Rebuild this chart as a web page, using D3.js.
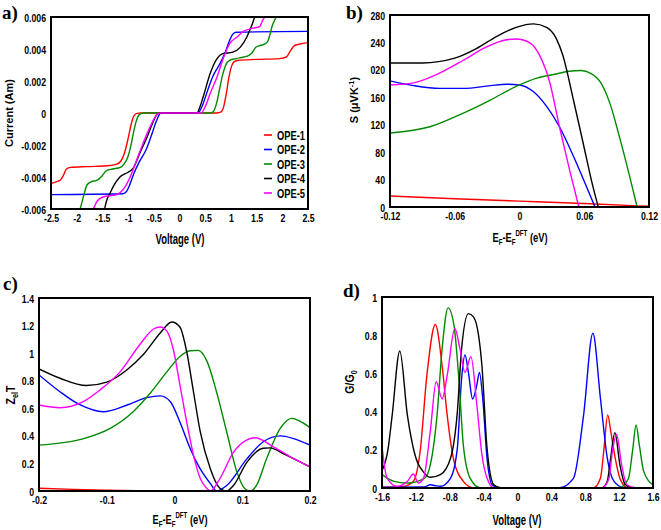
<!DOCTYPE html>
<html><head><meta charset="utf-8">
<script src="https://cdn.jsdelivr.net/npm/d3@7"></script>
<style>
body{margin:0;background:#fff;}
text{font-family:"Liberation Sans",Arial,sans-serif;font-weight:bold;fill:#000;}
.lab{font-family:"Liberation Serif","Times New Roman",serif;font-weight:bold;}
</style></head><body>
<svg id="c" width="661" height="530"></svg>
<script>
// ---------- shared ----------
const seriesNames = ["OPE-1","OPE-2","OPE-3","OPE-4","OPE-5"];
const seriesColors = ["#ff0000","#0000ff","#008a00","#000000","#ff00ff"];

// ---------- panel a: I-V ----------
const aTicksX = [-2.5,-2,-1.5,-1,-0.5,0,0.5,1,1.5,2,2.5];
const aTickLabelsX = ["-2.5","-2","-1.5","-1","-0.5","0","0.5","1","1.5","2","2.5"];
const aTicksY = [-0.006,-0.004,-0.002,0,0.002,0.004,0.006];
const aTickLabelsY = ["-0.006","-0.004","-0.002","0","0.002","0.004","0.006"];
const aOPE1 = [[-2.5,-0.0044],[-2.4,-0.0043],[-2.32,-0.0042],[-2.26,-0.0039],[-2.2,-0.0035],[-2.12,-0.0034],[-1.8,-0.00335],[-1.4,-0.0033],[-1.22,-0.0032],[-1.14,-0.003],[-1.07,-0.0025],[-1.0,-0.0016],[-0.94,-0.0007],[-0.89,-0.0002],[-0.83,-0.00002],[-0.75,0],[0.72,0],[0.8,0.00005],[0.86,0.0004],[0.91,0.0012],[0.96,0.0022],[1.01,0.0029],[1.06,0.0032],[1.15,0.0033],[1.5,0.00335],[1.95,0.0034],[2.08,0.0035],[2.16,0.0039],[2.23,0.0042],[2.33,0.0043],[2.5,0.0044]];
const aOPE2 = [[-2.5,-0.0051],[-1.1,-0.00505],[-1.03,-0.0049],[-0.97,-0.0045],[-0.89,-0.0038],[-0.79,-0.0031],[-0.65,-0.0023],[-0.53,-0.00125],[-0.45,-0.0005],[-0.36,0],[0.36,0],[0.45,0.0005],[0.53,0.00125],[0.65,0.0023],[0.79,0.0031],[0.89,0.0038],[0.97,0.0045],[1.03,0.0049],[1.1,0.00505],[2.5,0.0051]];
const aOPE3 = [[-1.95,-0.0062],[-1.9,-0.0056],[-1.85,-0.005],[-1.8,-0.0045],[-1.72,-0.0043],[-1.6,-0.0042],[-1.5,-0.0039],[-1.42,-0.0036],[-1.3,-0.0035],[-1.15,-0.0034],[-1.08,-0.0032],[-1.0,-0.0027],[-0.95,-0.0021],[-0.9,-0.0013],[-0.85,-0.0006],[-0.78,-0.0001],[-0.7,0],[0.6,0],[0.66,0.0001],[0.72,0.0006],[0.78,0.0015],[0.84,0.0024],[0.9,0.003],[0.98,0.0033],[1.1,0.0034],[1.25,0.0035],[1.35,0.0036],[1.42,0.0038],[1.48,0.0041],[1.55,0.0042],[1.65,0.0043],[1.72,0.0045],[1.76,0.0049],[1.8,0.0054],[1.85,0.0058],[1.9,0.0061]];
const aOPE4 = [[-1.47,-0.0062],[-1.42,-0.0055],[-1.35,-0.005],[-1.29,-0.0046],[-1.16,-0.004],[-1.0,-0.0037],[-0.9,-0.00345],[-0.77,-0.0025],[-0.63,-0.0015],[-0.52,-0.0006],[-0.44,-0.0001],[-0.38,0],[0.34,0],[0.4,0.0004],[0.46,0.001],[0.6,0.0025],[0.73,0.0034],[0.83,0.0037],[1.04,0.0038],[1.18,0.0041],[1.31,0.00475],[1.37,0.0052],[1.42,0.0056],[1.48,0.0062]];
const aOPE5 = [[-1.7,-0.0062],[-1.6,-0.0055],[-1.49,-0.00525],[-1.22,-0.0051],[-1.1,-0.0048],[-0.96,-0.004],[-0.83,-0.0029],[-0.71,-0.0019],[-0.57,-0.00085],[-0.44,-0.0001],[-0.38,0],[0.42,0],[0.5,0.0004],[0.6,0.00125],[0.73,0.00225],[0.85,0.0034],[0.98,0.00435],[1.12,0.00475],[1.24,0.0051],[1.43,0.0053],[1.56,0.0054],[1.62,0.0058],[1.68,0.0061]];

// ---------- panel b: Seebeck ----------
const bTicksX = [-0.12,-0.06,0,0.06,0.12];
const bTickLabelsX = ["-0.12","-0.06","0","0.06","0.12"];
const bTicksY = [0,40,80,120,160,200,240,280];
const bTickLabelsY = ["0","40","80","120","160","020","240","280"];
const bOPE1 = [[-0.12,16],[-0.06,12],[0,8.5],[0.06,5],[0.12,1]];
const bOPE2 = [[-0.12,184],[-0.098,177],[-0.074,173],[-0.052,173],[-0.027,177],[-0.012,179],[0,178],[0.013,168],[0.025,147],[0.037,117],[0.05,74],[0.062,30],[0.07,0]];
const bOPE3 = [[-0.12,108],[-0.083,117],[-0.052,137],[-0.027,156],[-0.003,176],[0.016,188],[0.034,194],[0.046,198],[0.057,199],[0.066,195],[0.075,182],[0.084,150],[0.093,100],[0.102,45],[0.109,0]];
const bOPE4 = [[-0.12,210],[-0.09,210],[-0.06,217],[-0.04,231],[-0.021,249],[-0.003,262],[0.013,267],[0.025,262],[0.034,246],[0.04,222],[0.05,156],[0.059,93],[0.068,30],[0.073,0]];
const bOPE5 = [[-0.12,178],[-0.098,181],[-0.077,193],[-0.052,214],[-0.031,233],[-0.012,244],[-0.003,245],[0.01,239],[0.019,220],[0.028,182],[0.037,117],[0.047,50],[0.055,0]];

// ---------- panel c: ZT ----------
const cTicksX = [-0.2,-0.1,0,0.1,0.2];
const cTickLabelsX = ["-0.2","-0.1","0","0.1","0.2"];
const cTicksY = [0,0.2,0.4,0.6,0.8,1,1.2,1.4];
const cTickLabelsY = ["0","0.2","0.4","0.6","0.8","1","1.2","1.4"];
const cOPE1 = [[-0.2,0.02],[-0.15,0.012],[-0.1,0.006],[-0.05,0.002],[0,0.0005],[0.2,0]];
const cOPE2 = [[-0.2,0.842],[-0.169,0.72],[-0.139,0.624],[-0.105,0.575],[-0.07,0.624],[-0.041,0.677],[-0.021,0.69],[-0.006,0.648],[0.008,0.5],[0.023,0.31],[0.038,0.16],[0.053,0.053],[0.062,0],[0.077,0.04],[0.107,0.235],[0.131,0.357],[0.156,0.4],[0.176,0.38],[0.2,0.333]];
const cOPE3 = [[-0.2,0.333],[-0.134,0.38],[-0.095,0.454],[-0.061,0.575],[-0.036,0.709],[-0.011,0.866],[0.008,0.976],[0.023,1.017],[0.035,1.02],[0.048,0.94],[0.062,0.72],[0.077,0.43],[0.092,0.14],[0.104,0.017],[0.112,0],[0.121,0.04],[0.136,0.235],[0.156,0.454],[0.173,0.527],[0.185,0.507],[0.2,0.46]];
const cOPE4 = [[-0.2,0.886],[-0.169,0.818],[-0.13,0.765],[-0.1,0.79],[-0.07,0.88],[-0.046,0.99],[-0.021,1.146],[-0.004,1.226],[0.008,1.19],[0.018,1.01],[0.028,0.72],[0.038,0.43],[0.053,0.16],[0.067,0.02],[0.077,0],[0.087,0.04],[0.107,0.21],[0.131,0.31],[0.141,0.313],[0.161,0.27],[0.2,0.175]];
const cOPE5 = [[-0.2,0.624],[-0.169,0.604],[-0.134,0.65],[-0.11,0.733],[-0.08,0.866],[-0.05,1.07],[-0.031,1.175],[-0.021,1.19],[-0.011,1.158],[-0.001,1.01],[0.008,0.77],[0.018,0.5],[0.028,0.26],[0.038,0.09],[0.048,0.017],[0.053,0],[0.067,0.09],[0.087,0.28],[0.107,0.37],[0.119,0.386],[0.146,0.32],[0.176,0.235],[0.2,0.175]];

// ---------- panel d: conductance ----------
const dTicksX = [-1.6,-1.2,-0.8,-0.4,0,0.4,0.8,1.2,1.6];
const dTickLabelsX = ["-1.6","-1.2","-0.8","-0.4","0","0.4","0.8","1.2","1.6"];
const dTicksY = [0,0.2,0.4,0.6,0.8,1];
const dTickLabelsY = ["0","0.2","0.4","0.6","0.8","1"];
const dOPE1 = [[-1.6,0.003],[-1.35,0.008],[-1.23,0.035],[-1.15,0.19],[-1.07,0.59],[-0.97,0.856],[-0.89,0.64],[-0.83,0.38],[-0.75,0.14],[-0.64,0.035],[-0.52,0.002],[0.9,0.002],[0.98,0.052],[1.02,0.2],[1.065,0.383],[1.1,0.3],[1.14,0.19],[1.21,0.05],[1.3,0.002],[1.6,0]];
const dOPE2 = [[-1.6,0.004],[-1.1,0.006],[-1.03,0.017],[-0.97,0.012],[-0.91,0.009],[-0.79,0.052],[-0.71,0.21],[-0.66,0.574],[-0.62,0.696],[-0.58,0.605],[-0.53,0.466],[-0.48,0.54],[-0.45,0.605],[-0.41,0.466],[-0.36,0.157],[-0.3,0.017],[-0.22,0.002],[0.5,0.002],[0.66,0.05],[0.78,0.38],[0.89,0.81],[0.98,0.466],[1.06,0.157],[1.14,0.035],[1.25,0.003],[1.6,0]];
const dOPE3 = [[-1.6,0.07],[-1.46,0.035],[-1.3,0.026],[-1.1,0.05],[-1.03,0.12],[-0.95,0.38],[-0.89,0.73],[-0.82,0.943],[-0.75,0.852],[-0.69,0.556],[-0.64,0.226],[-0.56,0.052],[-0.44,0.002],[1.2,0.002],[1.31,0.05],[1.36,0.2],[1.4,0.33],[1.44,0.22],[1.49,0.087],[1.6,0.017]];
const dOPE4 = [[-1.6,0.09],[-1.53,0.2],[-1.48,0.38],[-1.39,0.717],[-1.3,0.38],[-1.22,0.19],[-1.1,0.078],[-1.03,0.056],[-0.91,0.07],[-0.79,0.157],[-0.71,0.4],[-0.66,0.73],[-0.58,0.913],[-0.52,0.896],[-0.46,0.8],[-0.42,0.64],[-0.36,0.21],[-0.28,0.017],[-0.2,0.002],[1.0,0.002],[1.06,0.035],[1.1,0.157],[1.15,0.29],[1.21,0.12],[1.27,0.02],[1.35,0.002],[1.6,0]];
const dOPE5 = [[-1.6,0.217],[-1.54,0.052],[-1.42,0.009],[-1.3,0.035],[-1.23,0.073],[-1.17,0.026],[-1.11,0.05],[-1.03,0.296],[-0.96,0.556],[-0.89,0.466],[-0.83,0.59],[-0.74,0.835],[-0.68,0.73],[-0.62,0.605],[-0.55,0.687],[-0.48,0.435],[-0.42,0.174],[-0.36,0.052],[-0.28,0.002],[1.0,0.002],[1.08,0.05],[1.12,0.19],[1.17,0.28],[1.23,0.12],[1.29,0.017],[1.4,0.002],[1.6,0]];

// ---------- drawing ----------
const svg = d3.select("#c");
function condense(sel, ratio){
  sel.each(function(){
    const L = this.getComputedTextLength();
    if (L > 0) d3.select(this).attr("textLength", L*ratio).attr("lengthAdjust","spacingAndGlyphs");
  });
}

function panel(cfg){
  const x = d3.scaleLinear().domain(cfg.xd).range([cfg.l, cfg.r]);
  const y = d3.scaleLinear().domain(cfg.yd).range([cfg.b, cfg.t]);
  const g = svg.append("g");
  const cid = "clip" + cfg.id;
  svg.append("clipPath").attr("id", cid).append("rect")
    .attr("x", cfg.l).attr("y", cfg.t).attr("width", cfg.r-cfg.l).attr("height", cfg.b-cfg.t);
  const line = d3.line().x(d=>x(d[0])).y(d=>y(d[1])).curve(d3.curveMonotoneX);
  const lines = g.append("g").attr("clip-path", `url(#${cid})`);
  cfg.series.forEach((s,i)=>{
    lines.append("path").datum(s).attr("d", line).attr("fill","none")
      .attr("stroke", seriesColors[i]).attr("stroke-width",1.4);
  });
  g.append("rect").attr("x",cfg.l).attr("y",cfg.t).attr("width",cfg.r-cfg.l).attr("height",cfg.b-cfg.t)
    .attr("fill","none").attr("stroke","#000").attr("stroke-width",2);
  const ax = g.append("g").attr("transform",`translate(0,${cfg.b})`)
    .call(d3.axisBottom(x).tickValues(cfg.tx).tickFormat((d,i)=>cfg.txl[i]).tickSize(0).tickPadding(5));
  const ay = g.append("g").attr("transform",`translate(${cfg.l},0)`)
    .call(d3.axisLeft(y).tickValues(cfg.ty).tickFormat((d,i)=>cfg.tyl[i]).tickSize(0).tickPadding(5));
  [ax,ay].forEach(a=>{a.select(".domain").remove();
    a.selectAll("text").attr("font-size",11.5).attr("fill","#000")
      .style("font-family",'"Liberation Sans",Arial,sans-serif').style("font-weight","bold");
    condense(a.selectAll("text"), 0.76);});
  ay.selectAll("text").attr("dy","0.36em");
  return {x,y,g};
}

panel({id:"a", l:51, r:308, t:17, b:209, xd:[-2.5,2.5], yd:[-0.006,0.006],
  tx:aTicksX, txl:aTickLabelsX, ty:aTicksY, tyl:aTickLabelsY,
  series:[aOPE1,aOPE2,aOPE3,aOPE4,aOPE5]});
panel({id:"b", l:390, r:649, t:15, b:207, xd:[-0.12,0.12], yd:[0,280],
  tx:bTicksX, txl:bTickLabelsX, ty:bTicksY, tyl:bTickLabelsY,
  series:[bOPE1,bOPE2,bOPE3,bOPE4,bOPE5]});
panel({id:"c", l:39, r:310, t:298, b:491, xd:[-0.2,0.2], yd:[0,1.4],
  tx:cTicksX, txl:cTickLabelsX, ty:cTicksY, tyl:cTickLabelsY,
  series:[cOPE1,cOPE2,cOPE3,cOPE4,cOPE5]});
panel({id:"d", l:382, r:653, t:297, b:488, xd:[-1.6,1.6], yd:[0,1],
  tx:dTicksX, txl:dTickLabelsX, ty:dTicksY, tyl:dTickLabelsY,
  series:[dOPE1,dOPE2,dOPE3,dOPE4,dOPE5]});

// legend (panel a)
const leg = svg.append("g");
seriesNames.forEach((n,i)=>{
  const yy = 135 + i*14.5;
  leg.append("line").attr("x1",264).attr("x2",272).attr("y1",yy).attr("y2",yy)
    .attr("stroke",seriesColors[i]).attr("stroke-width",1.6);
  leg.append("text").attr("x",277).attr("y",yy+4.5).attr("font-size",12.5).text(n)
    .attr("textLength",28).attr("lengthAdjust","spacingAndGlyphs");
});

// panel labels
[["a)",2,19],["b)",346,19],["c)",3,290],["d)",343,297]].forEach(d=>{
  svg.append("text").attr("class","lab").attr("x",d[1]).attr("y",d[2]).attr("font-size",19).text(d[0]);
});

// axis titles (grouped so they can be condensed horizontally)
function title(x, y, rot, sx, size, build){
  const g = svg.append("g").attr("transform",`translate(${x},${y}) rotate(${rot}) scale(${sx},1)`);
  const t = g.append("text").attr("text-anchor","middle").attr("font-size",size);
  build(t);
}
title(13,113,-90,1,11,t=>t.text("Current (Am)"));
title(358,100,-90,1,11,t=>{
  t.append("tspan").text("S (\u03bcVK");
  t.append("tspan").attr("dy",-4).attr("font-size",7.5).text("-1");
  t.append("tspan").attr("dy",4).text(")");
});
title(15,395,-90,0.85,12.5,t=>{ t.append("tspan").text("Z");
  t.append("tspan").attr("dy",3).attr("font-size",8.5).text("el");
  t.append("tspan").attr("dy",-3).text("T");
});
title(354,382,-90,0.85,12.5,t=>{ t.append("tspan").text("G/G");
  t.append("tspan").attr("dy",3).attr("font-size",8.5).text("0");
});
title(180,244,0,0.68,14,t=>t.text("Voltage (V)"));
title(517,525,0,0.68,14,t=>t.text("Voltage (V)"));
function efTitle(t){
  t.append("tspan").text("E");
  t.append("tspan").attr("dy",3).attr("font-size",8.5).text("F");
  t.append("tspan").attr("dy",-3).text("-E");
  t.append("tspan").attr("dy",3).attr("font-size",8.5).text("F");
  t.append("tspan").attr("dy",-9).attr("font-size",8.5).text("DFT");
  t.append("tspan").attr("dy",6).text(" (eV)");
}
title(520,242,0,0.72,13,efTitle);
title(180,524,0,0.72,13,efTitle);
</script></body></html>
